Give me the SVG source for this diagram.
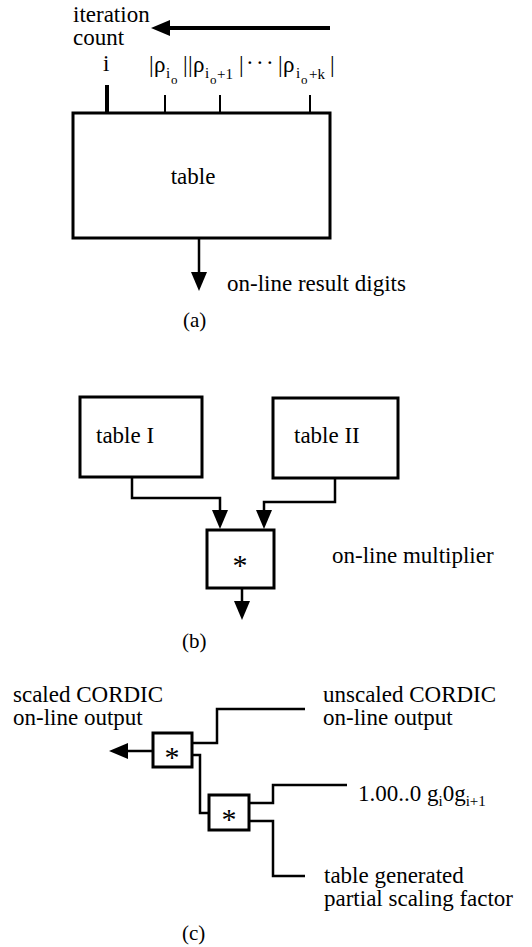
<svg xmlns="http://www.w3.org/2000/svg" width="532" height="947" viewBox="0 0 532 947">
<style>
.t{font-family:"Liberation Serif","Times New Roman",serif;font-size:23px;fill:#000}
.cap{font-size:21px}
.s{font-size:15px}
.ss{font-size:13px}
.ast{font-size:30px}
.box{fill:#fff;stroke:#000;stroke-width:3}
.w{fill:none;stroke:#000;stroke-width:2.5;stroke-linejoin:miter}
.thick{fill:none;stroke:#000;stroke-width:4}
.thin{fill:none;stroke:#000;stroke-width:2}
</style>
<defs>
<marker id="ah" markerUnits="userSpaceOnUse" markerWidth="20" markerHeight="16" refX="6" refY="8" orient="auto" viewBox="0 0 20 16">
<path d="M0,0 L19,8 L0,16 z" fill="#000"/>
</marker>
</defs>
<rect width="532" height="947" fill="#fff"/>

<!-- (a) -->
<g id="a-labels">
<text class="t" x="73" y="22">iteration</text>
<text class="t" x="73" y="45">count</text>
<text class="t" x="103" y="71">i</text>
<text class="t">
<tspan x="149" y="72">|</tspan><tspan x="154" y="72">ρ</tspan><tspan class="s" x="166" y="78">i</tspan><tspan class="ss" x="171" y="84">o</tspan>
<tspan x="183" y="72">|</tspan><tspan x="188" y="72">|</tspan><tspan x="193" y="72">ρ</tspan><tspan class="s" x="205" y="78">i</tspan><tspan class="ss" x="210" y="84">o</tspan><tspan class="s" x="217" y="79">+1</tspan>
<tspan x="239" y="72">|</tspan><tspan x="246" y="70">·</tspan><tspan x="256" y="70">·</tspan><tspan x="266" y="70">·</tspan><tspan x="278" y="72">|</tspan><tspan x="283" y="72">ρ</tspan><tspan class="s" x="296" y="78">i</tspan><tspan class="ss" x="301" y="84">o</tspan><tspan class="s" x="309" y="79">+k</tspan><tspan x="330" y="72">|</tspan>
</text>
<text class="t cap" x="183" y="327">(a)</text>
</g>
<g id="a-table">
<rect class="box" x="73" y="113" width="257" height="125"/>
<text class="t" x="193" y="184" text-anchor="middle">table</text>
</g>
<g id="a-output-label">
<text class="t" x="227" y="291">on-line result digits</text>
</g>

<!-- (b) -->
<g id="b-table1">
<rect class="box" x="80" y="397" width="122" height="80"/>
<text class="t" x="96" y="443">table I</text>
</g>
<g id="b-table2">
<rect class="box" x="273" y="398" width="125" height="80"/>
<text class="t" x="294" y="443">table II</text>
</g>
<g id="b-mult">
<rect class="box" x="207" y="530" width="67" height="58"/>
<text class="t ast" x="240" y="575" text-anchor="middle">*</text>
</g>
<g id="b-labels">
<text class="t" x="332" y="563">on-line multiplier</text>
<text class="t cap" x="182" y="648">(b)</text>
</g>

<!-- (c) -->
<g id="c-mult1">
<rect class="box" x="153" y="733" width="39" height="34"/>
<text class="t ast" x="172" y="767" text-anchor="middle">*</text>
</g>
<g id="c-mult2">
<rect class="box" x="209" y="795" width="40" height="35"/>
<text class="t ast" x="229" y="829" text-anchor="middle">*</text>
</g>
<g id="c-labels">
<text class="t" x="13" y="702">scaled CORDIC</text>
<text class="t" x="13" y="725">on-line output</text>
<text class="t" x="323" y="702">unscaled CORDIC</text>
<text class="t" x="323" y="725">on-line output</text>
<text class="t" x="358" y="801">1.00..0 g<tspan class="s" dy="5">i</tspan><tspan dy="-5">0g</tspan><tspan class="s" dy="5">i+1</tspan></text>
<text class="t" x="324" y="883">table generated</text>
<text class="t" x="324" y="906">partial scaling factor</text>
<text class="t cap" x="182" y="940">(c)</text>
</g>

<g id="connectors">
<!-- (a) -->
<line class="thick" x1="330" y1="28" x2="164" y2="28" marker-end="url(#ah)"/>
<line class="thick" x1="107" y1="85" x2="107" y2="113"/>
<line class="thin" x1="165" y1="95" x2="165" y2="113"/>
<line class="thin" x1="220" y1="95" x2="220" y2="113"/>
<line class="thin" x1="310" y1="95" x2="310" y2="113"/>
<line class="w" x1="199" y1="238" x2="199" y2="278" marker-end="url(#ah)"/>
<!-- (b) -->
<polyline class="w" points="132,477 132,498 220,498 220,516" marker-end="url(#ah)"/>
<polyline class="w" points="335,478 335,502 264,502 264,516" marker-end="url(#ah)"/>
<line class="w" x1="242" y1="588" x2="242" y2="607" marker-end="url(#ah)"/>
<!-- (c) -->
<line class="w" x1="153" y1="751" x2="122" y2="751" marker-end="url(#ah)"/>
<polyline class="w" points="192,743 217,743 217,709 305,709"/>
<polyline class="w" points="192,755 200,755 200,813 209,813"/>
<polyline class="w" points="249,803 273,803 273,785 347,785"/>
<polyline class="w" points="249,821 273,821 273,876 305,876"/>
</g>
</svg>
